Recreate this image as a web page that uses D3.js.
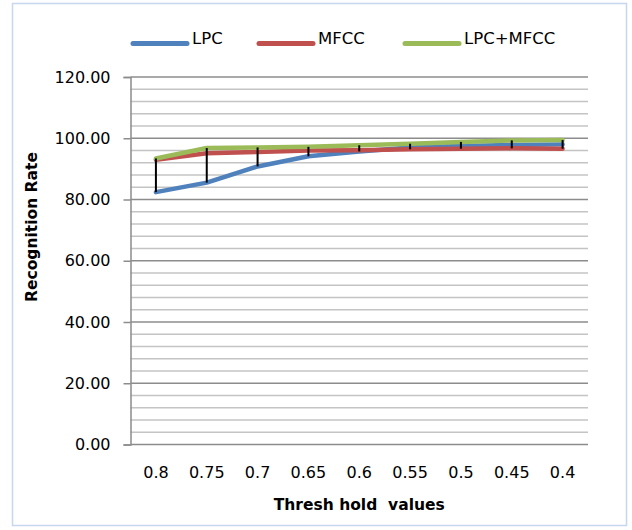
<!DOCTYPE html>
<html>
<head>
<meta charset="utf-8">
<script src="https://cdn.jsdelivr.net/npm/d3@7"></script>
<style>
  body { margin: 0; background: #fff; }
  svg { display: block; font-family: "DejaVu Sans", sans-serif; }
</style>
</head>
<body>
<div id="chart"></div>
<script>
// threshold values along the x axis
const thresholds = ["0.8", "0.75", "0.7", "0.65", "0.6", "0.55", "0.5", "0.45", "0.4"];

// recognition rate per feature set
const lpc = [82.4, 85.5, 90.8, 94.1, 95.7, 97.0, 97.5, 97.8, 98.0];
const mfcc = [93.0, 95.1, 95.5, 96.0, 96.1, 96.4, 96.6, 96.7, 96.6];
const lpcMfcc = [93.4, 96.8, 97.0, 97.2, 97.7, 98.2, 98.8, 99.3, 99.4];

const seriesNames = ["LPC", "MFCC", "LPC+MFCC"];
const yTicks = [0, 20, 40, 60, 80, 100, 120];

const width = 632, height = 530;
const colors = ["#4f81bd", "#c0504d", "#9bbb59"];
const allSeries = [lpc, mfcc, lpcMfcc];

const svg = d3.select("#chart").append("svg")
  .attr("width", width)
  .attr("height", height);

// chart frame
svg.append("rect")
  .attr("x", 12.5).attr("y", 3.5)
  .attr("width", 614).attr("height", 522)
  .attr("fill", "#fff")
  .attr("stroke", "#c6d7ee")
  .attr("stroke-width", 1.5);

const plotLeft = 130.5, plotRight = 588, plotTop = 77, plotBottom = 444.5;

const x = d3.scaleBand()
  .domain(thresholds)
  .range([plotLeft, plotRight])
  .padding(0);

const y = d3.scaleLinear()
  .domain([0, 120])
  .range([plotBottom, plotTop]);

// minor gridlines
svg.append("g")
  .selectAll("line")
  .data(d3.range(0, 121, 4).filter(v => v % 20 !== 0))
  .join("line")
  .attr("x1", plotLeft).attr("x2", plotRight)
  .attr("y1", d => y(d)).attr("y2", d => y(d))
  .attr("stroke", "#c4c4c4")
  .attr("stroke-width", 1.5);

// major gridlines
svg.append("g")
  .selectAll("line")
  .data(yTicks)
  .join("line")
  .attr("x1", plotLeft).attr("x2", plotRight)
  .attr("y1", d => y(d)).attr("y2", d => y(d))
  .attr("stroke", "#8c8c8c")
  .attr("stroke-width", 1.5);

// y axis
const yAxis = svg.append("g")
  .attr("transform", `translate(${plotLeft},0)`)
  .call(d3.axisLeft(y).tickValues(yTicks).tickFormat(d3.format(".2f")).tickSize(7).tickPadding(13));
yAxis.select(".domain").attr("stroke", "#8c8c8c").attr("stroke-width", 1.5);
yAxis.selectAll(".tick line").attr("stroke", "#8c8c8c").attr("stroke-width", 1.5);
yAxis.selectAll("text")
  .attr("fill", "#000")
  .style("font-size", "16px")
  .style("font-family", "DejaVu Sans, sans-serif");

// x axis
const xAxis = svg.append("g")
  .attr("transform", `translate(0,${plotBottom})`)
  .call(d3.axisBottom(x).tickSize(0).tickPadding(22));
xAxis.select(".domain").remove();
xAxis.selectAll("text")
  .attr("fill", "#000")
  .style("font-size", "16px")
  .style("font-family", "DejaVu Sans, sans-serif");

const cx = d => x(d) + x.bandwidth() / 2;

const line = d3.line()
  .x((d, i) => cx(thresholds[i]))
  .y(d => y(d));

// series lines
svg.append("g")
  .selectAll("path")
  .data(allSeries)
  .join("path")
  .attr("d", d => line(d))
  .attr("fill", "none")
  .attr("stroke", (d, i) => colors[i])
  .attr("stroke-width", 4.5)
  .attr("stroke-linejoin", "round")
  .attr("stroke-linecap", "round");

// high-low lines
svg.append("g")
  .selectAll("line")
  .data(thresholds)
  .join("line")
  .attr("x1", d => cx(d)).attr("x2", d => cx(d))
  .attr("y1", (d, i) => y(d3.max(allSeries, s => s[i])))
  .attr("y2", (d, i) => y(d3.min(allSeries, s => s[i])))
  .attr("stroke", "#000")
  .attr("stroke-width", 2);

// legend
const legendX = [133, 259, 405];
const legend = svg.append("g")
  .selectAll("g")
  .data(seriesNames)
  .join("g")
  .attr("transform", (d, i) => `translate(${legendX[i]},43.5)`);
legend.append("line")
  .attr("x1", 0).attr("x2", 54)
  .attr("stroke", (d, i) => colors[i])
  .attr("stroke-width", 5)
  .attr("stroke-linecap", "round");
legend.append("text")
  .attr("x", 59).attr("y", 0.5)
  .style("font-size", "16.5px")
  .attr("fill", "#000")
  .text(d => d);

// axis titles
svg.append("text")
  .attr("x", (plotLeft + plotRight) / 2).attr("y", 510)
  .attr("text-anchor", "middle")
  .style("font-size", "15.5px")
  .style("font-weight", "bold")
  .style("white-space", "pre")
  .text("Thresh hold  values");

svg.append("text")
  .attr("transform", "translate(37,227) rotate(-90)")
  .attr("text-anchor", "middle")
  .style("font-size", "15.5px")
  .style("font-weight", "bold")
  .text("Recognition Rate");
</script>
</body>
</html>
